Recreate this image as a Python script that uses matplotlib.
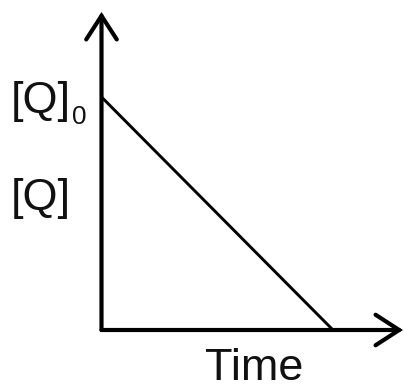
import matplotlib
matplotlib.use("Agg")
import matplotlib.pyplot as plt

# Zero-order decay: concentration falls linearly from [Q]0 to zero
time_pts = [0.0, 1.0]
conc_pts = [1.0, 0.0]

W, H, DPI = 404, 390, 100
fig = plt.figure(figsize=(W / DPI, H / DPI), dpi=DPI)
fig.patch.set_facecolor("white")

# origin of the plot in pixels and the size of one data unit
ox, oy = 101.5, 330.0
ux, uy = 231.5, 233.0
x_max = (403 - ox) / ux
y_max = (oy - 12) / uy

ax = fig.add_axes([ox / W, (H - oy) / H, (W - ox) / W, oy / H])
ax.set_xlim(0, (W - ox) / ux)
ax.set_ylim(0, oy / uy)
ax.axis("off")

axis_kw = dict(arrowstyle="->,head_length=1.7,head_width=1.1",
               color="black", lw=3.0, mutation_scale=10,
               shrinkA=0, shrinkB=0, capstyle="round", joinstyle="miter")
ax.annotate("", xy=(0, y_max), xytext=(0, 0), arrowprops=axis_kw,
            annotation_clip=False)
ax.annotate("", xy=(x_max, 0), xytext=(0, 0), arrowprops=axis_kw,
            annotation_clip=False)

ax.plot(time_pts, conc_pts, color="black", lw=2.1, solid_capstyle="butt",
        clip_on=False)

font = "Liberation Sans"
big = 45 * 72 / DPI
small = 26 * 72 / DPI

def px(x, y):
    return x / W, 1 - y / H

fig.text(*px(11, 113), "[Q]", fontsize=big, family=font,
         ha="left", va="baseline", color="#111111")
fig.text(*px(72, 124), "0", fontsize=small, family=font,
         ha="left", va="baseline", color="#111111")
fig.text(*px(11, 210), "[Q]", fontsize=big, family=font,
         ha="left", va="baseline", color="#111111")
fig.text(*px(205, 380), "Time", fontsize=big, family=font,
         ha="left", va="baseline", color="#111111")

fig.savefig("out.png", dpi=DPI)
